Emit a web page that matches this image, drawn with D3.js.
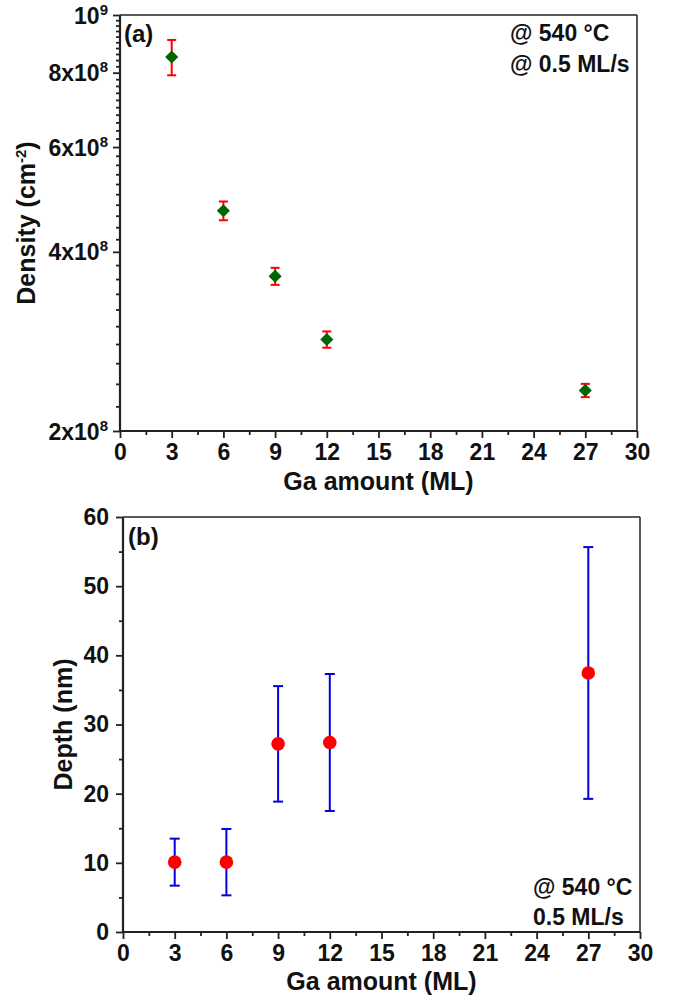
<!DOCTYPE html>
<html>
<head>
<meta charset="utf-8">
<script src="https://cdn.jsdelivr.net/npm/d3@7"></script>
<style>
  html, body { margin: 0; padding: 0; background: #fff; }
  svg { display: block; font-family: "Liberation Sans", Arial, sans-serif; font-weight: bold; }
</style>
</head>
<body>
<svg id="chart" width="682" height="1001"></svg>
<script>
// ---- data ----
const gaAmount = [3, 6, 9, 12, 27];
const density = [8.5e8, 4.69e8, 3.64e8, 2.85e8, 2.34e8];
const densityErr = [0.58e8, 0.17e8, 0.12e8, 0.09e8, 0.06e8];
const depth = [10.1, 10.1, 27.2, 27.4, 37.45];
const depthErr = [3.4, 4.8, 8.35, 9.9, 18.2];

const xTicks = [0, 3, 6, 9, 12, 15, 18, 21, 24, 27, 30];
const densityTicks = [2e8, 4e8, 6e8, 8e8, 1e9];
const densityTickBase = ["2x10", "4x10", "6x10", "8x10", "10"];
const densityTickExp = ["8", "8", "8", "8", "9"];
const depthTicks = [0, 10, 20, 30, 40, 50, 60];

const svg = d3.select("#chart");
const AX = "#222";

function styleAxis(g) {
  g.select(".domain").remove();
  g.selectAll("line").attr("stroke", AX).attr("stroke-width", 1.8);
  g.selectAll("text").attr("fill", "#111").attr("font-size", 23).attr("font-weight", "bold");
}

function frame(g, L, R, T, B) {
  g.append("line").attr("x1", L).attr("x2", R).attr("y1", T).attr("y2", T).attr("stroke", AX).attr("stroke-width", 1.5);
  g.append("line").attr("x1", R).attr("x2", R).attr("y1", T).attr("y2", B).attr("stroke", AX).attr("stroke-width", 1.5);
  g.append("line").attr("x1", L).attr("x2", R).attr("y1", B).attr("y2", B).attr("stroke", AX).attr("stroke-width", 2.2);
  g.append("line").attr("x1", L).attr("x2", L).attr("y1", T).attr("y2", B).attr("stroke", AX).attr("stroke-width", 2.2);
}

// ---------------- Panel (a) ----------------
{
  const L = 120, R = 637, T = 15, B = 431;
  const x = d3.scaleLinear().domain([0, 30]).range([L, R]);
  const y = d3.scaleLog().domain([2e8, 1e9]).range([B, T]);
  const g = svg.append("g");

  // minor ticks
  const xMinor = d3.range(0, 30.01, 1.5).filter(v => v % 3 !== 0);
  g.append("g").attr("transform", `translate(0,${B})`)
    .call(d3.axisBottom(x).tickValues(xMinor).tickSize(4).tickFormat(""))
    .call(styleAxis);
  const yMinor = d3.range(2.2e8, 1e9, 0.2e8).filter(v => !densityTicks.some(t => Math.abs(t - v) < 1e6));
  g.append("g").attr("transform", `translate(${L},0)`)
    .call(d3.axisLeft(y).tickValues(yMinor).tickSize(4).tickFormat(""))
    .call(styleAxis);

  // major ticks
  g.append("g").attr("transform", `translate(0,${B})`)
    .call(d3.axisBottom(x).tickValues(xTicks).tickSize(7).tickPadding(6).tickFormat(d3.format("d")))
    .call(styleAxis);
  const yAx = g.append("g").attr("transform", `translate(${L},0)`)
    .call(d3.axisLeft(y).tickValues(densityTicks).tickSize(7).tickPadding(5).tickFormat(""))
    .call(styleAxis);
  yAx.selectAll(".tick").each(function(d, i) {
    const t = d3.select(this).append("text")
      .attr("x", -12).attr("dy", "0.35em")
      .attr("text-anchor", "end").attr("fill", "#111")
      .attr("font-size", 23).attr("font-weight", "bold");
    t.append("tspan").text(densityTickBase[i]);
    t.append("tspan").attr("font-size", 15).attr("dy", "-0.6em").text(densityTickExp[i]);
  });

  frame(g, L, R, T, B);

  // error bars
  const eb = g.append("g").attr("stroke", "#ff0000").attr("stroke-width", 2);
  gaAmount.forEach((v, i) => {
    const cx = x(v), y1 = y(density[i] + densityErr[i]), y0 = y(density[i] - densityErr[i]);
    eb.append("line").attr("x1", cx).attr("x2", cx).attr("y1", y1).attr("y2", y0);
    eb.append("line").attr("x1", cx - 4.5).attr("x2", cx + 4.5).attr("y1", y1).attr("y2", y1);
    eb.append("line").attr("x1", cx - 4.5).attr("x2", cx + 4.5).attr("y1", y0).attr("y2", y0);
  });
  // diamonds
  g.append("g").selectAll("path").data(gaAmount).join("path")
    .attr("d", d3.symbol().type(d3.symbolDiamond2).size(110))
    .attr("transform", (d, i) => `translate(${x(d)},${y(density[i])})`)
    .attr("fill", "#006600");

  // labels
  g.append("text").attr("x", (L + R) / 2).attr("y", 490).attr("text-anchor", "middle")
    .attr("font-size", 25).attr("fill", "#111").text("Ga amount (ML)");
  const yl = g.append("text").attr("transform", `translate(35,${(T + B) / 2}) rotate(-90)`)
    .attr("text-anchor", "middle").attr("font-size", 25).attr("fill", "#111");
  yl.append("tspan").text("Density (cm");
  yl.append("tspan").attr("font-size", 15).attr("dy", "-0.6em").text("-2");
  yl.append("tspan").attr("dy", "0.36em").text(")");

  g.append("text").attr("x", 124).attr("y", 42).attr("font-size", 24).attr("fill", "#111").text("(a)");
  g.append("text").attr("x", 510).attr("y", 41).attr("font-size", 23).attr("fill", "#111").text("@ 540 °C");
  g.append("text").attr("x", 510).attr("y", 72).attr("font-size", 23).attr("fill", "#111").text("@ 0.5 ML/s");
}

// ---------------- Panel (b) ----------------
{
  const L = 123, R = 640, T = 517, B = 932;
  const x = d3.scaleLinear().domain([0, 30]).range([L, R]);
  const y = d3.scaleLinear().domain([0, 60]).range([B, T]);
  const g = svg.append("g");

  const xMinor = d3.range(0, 30.01, 1.5).filter(v => v % 3 !== 0);
  g.append("g").attr("transform", `translate(0,${B})`)
    .call(d3.axisBottom(x).tickValues(xMinor).tickSize(4).tickFormat(""))
    .call(styleAxis);
  const yMinor = d3.range(5, 60, 10);
  g.append("g").attr("transform", `translate(${L},0)`)
    .call(d3.axisLeft(y).tickValues(yMinor).tickSize(4).tickFormat(""))
    .call(styleAxis);

  g.append("g").attr("transform", `translate(0,${B})`)
    .call(d3.axisBottom(x).tickValues(xTicks).tickSize(7).tickPadding(6).tickFormat(d3.format("d")))
    .call(styleAxis);
  g.append("g").attr("transform", `translate(${L},0)`)
    .call(d3.axisLeft(y).tickValues(depthTicks).tickSize(7).tickPadding(7).tickFormat(d3.format("d")))
    .call(styleAxis);

  frame(g, L, R, T, B);

  const eb = g.append("g").attr("stroke", "#0000dd").attr("stroke-width", 2);
  gaAmount.forEach((v, i) => {
    const cx = x(v), y1 = y(depth[i] + depthErr[i]), y0 = y(depth[i] - depthErr[i]);
    eb.append("line").attr("x1", cx).attr("x2", cx).attr("y1", y1).attr("y2", y0);
    eb.append("line").attr("x1", cx - 5).attr("x2", cx + 5).attr("y1", y1).attr("y2", y1);
    eb.append("line").attr("x1", cx - 5).attr("x2", cx + 5).attr("y1", y0).attr("y2", y0);
  });
  g.append("g").selectAll("circle").data(gaAmount).join("circle")
    .attr("cx", d => x(d)).attr("cy", (d, i) => y(depth[i])).attr("r", 6.8)
    .attr("fill", "#ff0000");

  g.append("text").attr("x", (L + R) / 2).attr("y", 990).attr("text-anchor", "middle")
    .attr("font-size", 25).attr("fill", "#111").text("Ga amount (ML)");
  g.append("text").attr("transform", `translate(72,${(T + B) / 2}) rotate(-90)`)
    .attr("text-anchor", "middle").attr("font-size", 25).attr("fill", "#111").text("Depth (nm)");

  g.append("text").attr("x", 128).attr("y", 545).attr("font-size", 24).attr("fill", "#111").text("(b)");
  g.append("text").attr("x", 533).attr("y", 895).attr("font-size", 23).attr("fill", "#111").text("@ 540 °C");
  g.append("text").attr("x", 533).attr("y", 925).attr("font-size", 23).attr("fill", "#111").text("0.5 ML/s");
}
</script>
</body>
</html>
